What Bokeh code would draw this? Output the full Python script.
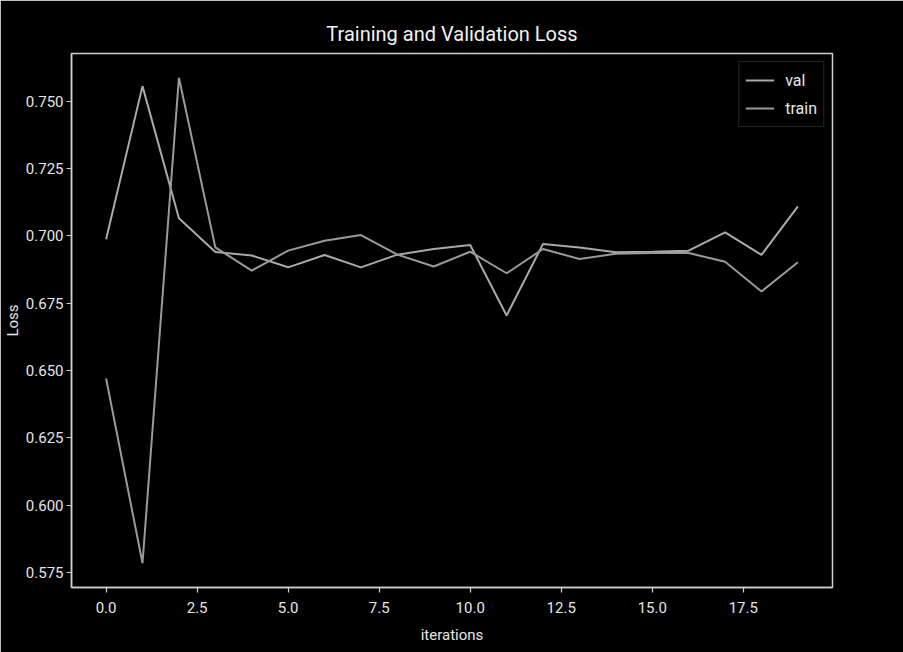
from bokeh.plotting import figure
from bokeh.models import Range1d, FixedTicker, PrintfTickFormatter, Legend, LegendItem
from bokeh.embed import file_html
from bokeh.resources import INLINE

# ---- data ----
iterations = list(range(20))
val_loss = [0.6987, 0.7556, 0.7065, 0.6940, 0.6927, 0.6883, 0.6929, 0.6883, 0.6930, 0.6951,
            0.6966, 0.6704, 0.6970, 0.6957, 0.6939, 0.6941, 0.6945, 0.7013, 0.6929, 0.7109]
train_loss = [0.6470, 0.5784, 0.7587, 0.6957, 0.6871, 0.6945, 0.6982, 0.7003, 0.6930, 0.6886,
              0.6941, 0.6861, 0.6951, 0.6914, 0.6933, 0.6936, 0.6936, 0.6904, 0.6793, 0.6902]
x_ticks = [0.0, 2.5, 5.0, 7.5, 10.0, 12.5, 15.0, 17.5]
y_ticks = [0.575, 0.600, 0.625, 0.650, 0.675, 0.700, 0.725, 0.750]

FONT = "Roboto"
TEXT = "#e6e6e6"
SPINE = "#cfcfcf"

# matplotlib-like 5% margins
xmin, xmax = min(iterations), max(iterations)
xpad = 0.05 * (xmax - xmin)
ally = val_loss + train_loss
ymin, ymax = min(ally), max(ally)
ypad = 0.05 * (ymax - ymin)

p = figure(width=903, height=652, output_backend="svg", toolbar_location=None,
           x_range=Range1d(xmin - xpad, xmax + xpad),
           y_range=Range1d(ymin - ypad, ymax + ypad),
           title="Training and Validation Loss")

p.min_border_left = 71
p.min_border_right = 71
p.min_border_top = 53
p.min_border_bottom = 65

p.background_fill_color = "black"
p.border_fill_color = "black"
p.outline_line_color = SPINE
p.outline_line_width = 1.5
p.grid.visible = False

p.title.align = "center"
p.title.text_font = FONT
p.title.text_font_size = "20px"
p.title.text_font_style = "normal"
p.title.text_color = "#f2f2f2"
p.title.standoff = 16

for ax in (p.xaxis, p.yaxis):
    ax.axis_line_color = SPINE
    ax.axis_line_width = 1.5
    ax.major_tick_line_color = SPINE
    ax.major_tick_line_width = 1.2
    ax.major_tick_in = 0
    ax.major_tick_out = 5
    ax.minor_tick_line_color = None
    ax.major_label_text_font = FONT
    ax.major_label_text_font_size = "15px"
    ax.major_label_text_color = TEXT
    ax.axis_label_text_font = FONT
    ax.axis_label_text_font_size = "15px"
    ax.axis_label_text_font_style = "normal"
    ax.axis_label_text_color = TEXT

p.xaxis.ticker = FixedTicker(ticks=x_ticks)
p.xaxis.formatter = PrintfTickFormatter(format="%.1f")
p.xaxis.axis_label = "iterations"
p.xaxis.major_label_standoff = 9
p.xaxis.axis_label_standoff = 10

p.yaxis.ticker = FixedTicker(ticks=y_ticks)
p.yaxis.formatter = PrintfTickFormatter(format="%.3f")
p.yaxis.axis_label = "Loss"
p.yaxis.major_label_standoff = 3
p.yaxis.axis_label_standoff = 1

r_val = p.line(iterations, val_loss, line_color="#a9a9a9", line_width=2)
r_train = p.line(iterations, train_loss, line_color="#9a9a9a", line_width=2)

legend = Legend(items=[LegendItem(label="val", renderers=[r_val]),
                       LegendItem(label="train", renderers=[r_train])],
                location="top_right")
legend.background_fill_color = "black"
legend.background_fill_alpha = 0.85
legend.border_line_color = "#4a4a4a"
legend.border_line_width = 1
legend.label_text_font = FONT
legend.label_text_font_size = "16px"
legend.label_text_color = TEXT
legend.glyph_width = 29
legend.glyph_height = 24
legend.label_height = 24
legend.spacing = 4
legend.padding = 6
legend.margin = 8
legend.label_standoff = 11
p.add_layout(legend)

open("out.html", "w").write(file_html(p, INLINE))
